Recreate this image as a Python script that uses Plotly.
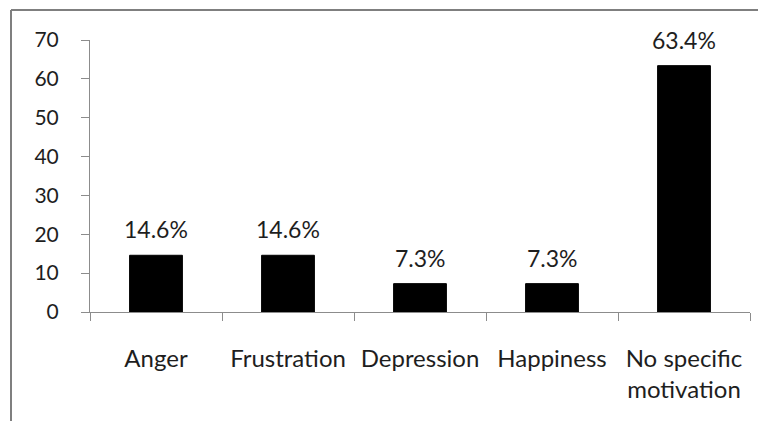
import plotly.graph_objects as go

categories = ["Anger", "Frustration", "Depression", "Happiness", "No specific<br>motivation"]
values = [14.6, 14.6, 7.3, 7.3, 63.4]
y_ticks = [0, 10, 20, 30, 40, 50, 60, 70]

FONT = "Lato"
TXT = "#1e1e1e"
AX = "#8c8c8c"

fig = go.Figure()
fig.add_trace(go.Bar(
    x=categories, y=values, width=0.4,
    marker=dict(color="black", line=dict(color="black", width=1)),
    hoverinfo="skip",
))

for c, v in zip(categories, values):
    fig.add_annotation(x=c, y=v, text=f"{v}%", showarrow=False, yanchor="bottom",
                       yshift=10, font=dict(family=FONT, size=23, color=TXT))

# page body has an 8px margin, so the figure is sized/offset to compensate
fig.update_layout(
    width=758, height=413,
    margin=dict(l=82, r=16, t=32, b=109),
    paper_bgcolor="white", plot_bgcolor="white",
    showlegend=False,
    font=dict(family=FONT, size=20, color=TXT),
    bargap=0.6,
)
fig.update_yaxes(
    range=[0, 70], tickvals=y_ticks, showgrid=False, zeroline=False,
    showline=True, linecolor=AX, linewidth=1, automargin=False,
    ticks="outside", ticklen=8, tickcolor=AX,
    ticklabelstandoff=18,
    tickfont=dict(family=FONT, size=21, color=TXT),
)
fig.update_xaxes(
    showgrid=False, showline=True, linecolor=AX, linewidth=1, automargin=False,
    ticks="outside", ticklen=8, tickcolor=AX, tickson="boundaries",
    ticklabelstandoff=25,
    tickfont=dict(family=FONT, size=24, color=TXT),
)

# outer chart-frame lines (left and top)
fig.add_shape(type="line", xref="paper", yref="paper", x0=-79/660, x1=1.1, y0=1 + 30/272, y1=1 + 30/272,
              line=dict(color="#7f7f7f", width=2))
fig.add_shape(type="line", xref="paper", yref="paper", x0=-79/660, x1=-79/660, y0=-0.5, y1=1 + 30/272,
              line=dict(color="#7f7f7f", width=2))

fig.write_html("out.html")
